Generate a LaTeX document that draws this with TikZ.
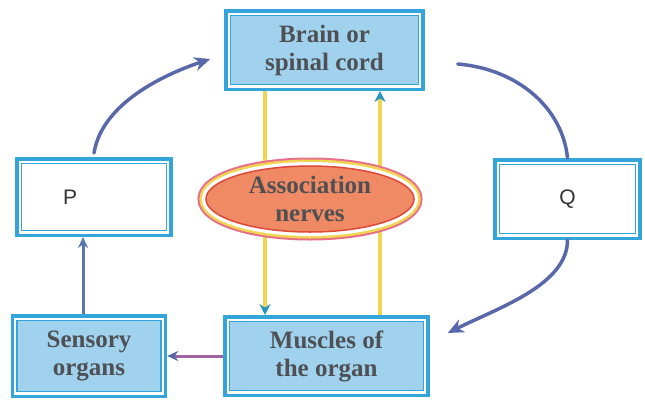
\documentclass[tikz,border=0pt]{standalone}
\usepackage{fontspec}
\setmainfont{Liberation Serif}
\newfontfamily\lettersans{Liberation Sans}
\usetikzlibrary{arrows.meta,positioning,shapes.geometric}
\definecolor{boxBlue}{RGB}{52,164,220}
\definecolor{boxFill}{RGB}{160,210,238}
\definecolor{textGray}{RGB}{78,80,84}
\definecolor{arcBlue}{RGB}{88,104,170}
\definecolor{nerveYellow}{RGB}{240,214,80}
\definecolor{tipTeal}{RGB}{40,150,190}
\definecolor{ovalFill}{RGB}{240,138,100}
\definecolor{ovalRed}{RGB}{222,72,58}
\definecolor{ovalPink}{RGB}{232,110,140}
\definecolor{linkPurple}{RGB}{160,100,160}
\definecolor{upBlue}{RGB}{90,120,175}

\begin{document}
\begin{tikzpicture}[x=1pt,y=1pt,
    framebox/.style={draw=boxBlue,line width=3.5pt,fill=white,minimum height=78.5pt,inner sep=0pt,align=center,
      path picture={\draw[boxBlue,line width=1.2pt,fill=#1] ([shift={(4.5pt,4.5pt)}]path picture bounding box.south west) rectangle ([shift={(-4.5pt,-4.5pt)}]path picture bounding box.north east);}},
    organ/.style={framebox=boxFill,font=\fontsize{25}{28}\selectfont\bfseries,text=textGray},
    letter/.style={framebox=white,font=\lettersans\fontsize{21}{25}\selectfont,text=black!80},
    assoc/.style={ellipse,minimum width=208pt,minimum height=66pt,inner sep=0pt,fill=ovalFill,draw=ovalRed,line width=1.5pt,
      align=center,font=\fontsize{25}{28}\selectfont\bfseries,text=textGray,
      preaction={draw=ovalPink,line width=17pt},preaction={draw=nerveYellow,line width=13pt},preaction={draw=white,line width=8pt}},
    nerve/.style={nerveYellow,line width=4pt,-{Stealth[length=11pt,width=11pt,color=tipTeal]}},
    arc/.style={arcBlue,line width=3.5pt,line cap=round,-{Stealth[length=16pt,width=14pt]}},
    arcline/.style={arcBlue,line width=3.5pt,line cap=round},
    link/.style={linkPurple,line width=3pt,-{Stealth[length=11pt,width=10pt,color=arcBlue]}},
    uplink/.style={upBlue,line width=3pt,-{Stealth[length=11pt,width=10pt]}}
  ]
    \fill[white] (0,0) rectangle (645,-400);
    \useasboundingbox (0,0) rectangle (645,-400);

    \node[organ,minimum width=197pt] (brain) at (324.5,-50) {Brain or\\spinal cord};
    \node[letter,minimum width=154pt,minimum height=76.5pt,text width=62pt,align=left] (p) at (94,-197) {P};
    \node[letter,minimum width=145pt,text width=18pt] (q) at (567.5,-199) {Q};
    \node[organ,minimum width=203pt] (muscles) at (326.5,-356) {Muscles of\\the organ};
    \node[organ,minimum width=153pt,minimum height=80.5pt,left=56pt of muscles] (sensory) {Sensory\\organs};

    % nerves between brain and muscles
    \draw[nerve] ([xshift=-59.5pt]brain.south) -- ([xshift=-59.5pt]brain.south |- muscles.north);
    \draw[nerve] ([xshift=55.5pt]brain.south |- muscles.north) -- ([xshift=55.5pt]brain.south);

    \node[assoc] (assoc) at (310,-199) {Association\\nerves};

    % outer loop
    \draw[arc] ([yshift=4pt]p.north) .. controls +(8,50) and +(-45,-15) .. ([xshift=-14pt,yshift=-9pt]brain.west);
    \draw[arcline] ([xshift=33pt,yshift=-14pt]brain.east) .. controls +(60,-5) and +(-5,50) .. (q.north);
    \draw[arc] (q.south) .. controls +(0,-45) and +(50,25) .. ([xshift=18pt,yshift=23pt]muscles.east);
    \draw[link] (muscles.west) -- (sensory.east);
    \draw[uplink] ([xshift=-6pt]sensory.north) -- ([xshift=-6pt]sensory.north |- p.south);
\end{tikzpicture}
\end{document}
